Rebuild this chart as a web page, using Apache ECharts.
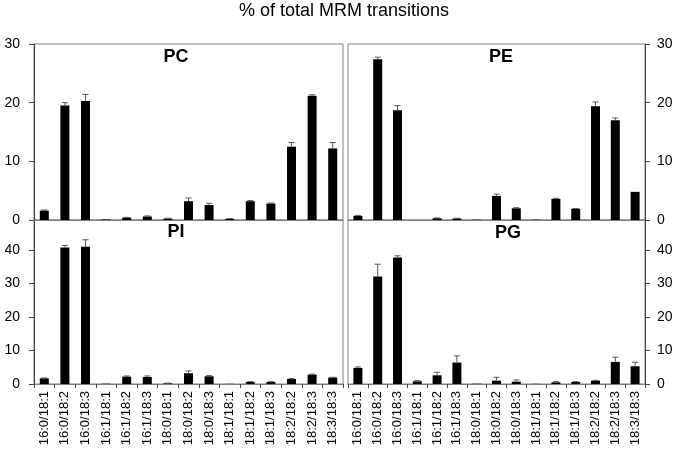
<!DOCTYPE html>
<html lang="en">
<head>
    <meta charset="UTF-8">
    <title>% of total MRM transitions</title>
    <script src="https://cdn.jsdelivr.net/npm/echarts@6/dist/echarts.min.js"></script>
    <style>
        body { margin: 0; background: #fff; }
        #chart { width: 678px; height: 451px; }
    </style>
</head>
<body>
    <div id="chart"></div>
    <script>
        // fatty acyl pairs on the x axis
        const categories = ['16:0/18:1', '16:0/18:2', '16:0/18:3', '16:1/18:1', '16:1/18:2', '16:1/18:3',
            '18:0/18:1', '18:0/18:2', '18:0/18:3', '18:1/18:1', '18:1/18:2', '18:1/18:3',
            '18:2/18:2', '18:2/18:3', '18:3/18:3'];

        const pcVals = [1.6, 19.5, 20.3, 0.1, 0.4, 0.6, 0.25, 3.2, 2.55, 0.2, 3.2, 2.8, 12.5, 21.2, 12.2];
        const pcErr  = [0.1, 0.5, 1.1, 0, 0.05, 0.1, 0.05, 0.55, 0.3, 0.05, 0.1, 0.1, 0.7, 0.15, 1.0];

        const peVals = [0.7, 27.4, 18.7, 0, 0.3, 0.25, 0.05, 4.1, 2.0, 0.05, 3.6, 1.9, 19.4, 17.0, 4.8];
        const peErr  = [0.05, 0.35, 0.8, 0, 0.05, 0.05, 0, 0.3, 0.1, 0, 0.1, 0.05, 0.7, 0.4, 0];

        const piVals = [1.7, 40.8, 41.0, 0.1, 2.2, 2.1, 0.2, 3.2, 2.3, 0.05, 0.6, 0.6, 1.5, 2.8, 1.9];
        const piErr  = [0.1, 0.6, 2.1, 0, 0.2, 0.3, 0.05, 0.7, 0.2, 0, 0.1, 0.1, 0.1, 0.15, 0.1];

        const pgVals = [4.8, 32.1, 37.8, 0.8, 2.6, 6.4, 0.1, 1.0, 0.7, 0.05, 0.5, 0.6, 1.0, 6.6, 5.3];
        const pgErr  = [0.3, 3.7, 0.5, 0.2, 0.9, 2.0, 0, 1.0, 0.5, 0, 0.2, 0.1, 0.1, 1.4, 1.2];

        const panelNames = ['PC', 'PE', 'PI', 'PG'];

        const chart = echarts.init(document.getElementById('chart'));
        const font = 'Liberation Sans, Arial, sans-serif';

        const grids = [
            { left: 34, top: 44, width: 309, height: 176 },
            { left: 348, top: 44, width: 297, height: 176 },
            { left: 34, top: 220, width: 309, height: 164 },
            { left: 348, top: 220, width: 297, height: 164 }
        ].map(g => Object.assign(g, { show: true, borderColor: '#7f7f7f', borderWidth: 1 }));

        const xAxes = grids.map((g, i) => ({
            type: 'category',
            gridIndex: i,
            data: categories,
            axisLine: { lineStyle: { color: '#7f7f7f' } },
            axisTick: { show: i >= 2, length: 4, lineStyle: { color: '#404040' } },
            axisLabel: {
                show: i >= 2,
                rotate: 90,
                interval: 0,
                margin: 7,
                fontFamily: font,
                fontSize: 13,
                color: '#000'
            }
        }));

        const yAxes = grids.map((g, i) => ({
            type: 'value',
            gridIndex: i,
            position: i % 2 === 0 ? 'left' : 'right',
            min: 0,
            max: i < 2 ? 30 : 49,
            interval: 10,
            splitLine: { show: false },
            axisLine: { show: true, lineStyle: { color: '#404040' } },
            axisTick: { show: true, length: 5, lineStyle: { color: '#404040' } },
            axisLabel: {
                margin: i % 2 === 0 ? 14 : 12,
                fontFamily: font,
                fontSize: 14,
                color: '#000',
                formatter: v => (v % 10 === 0 ? String(v) : '')
            }
        }));

        const panels = [[pcVals, pcErr], [peVals, peErr], [piVals, piErr], [pgVals, pgErr]];

        const series = [];
        panels.forEach(([vals, errs], i) => {
            series.push({
                type: 'bar',
                xAxisIndex: i,
                yAxisIndex: i,
                data: vals,
                barWidth: 9,
                itemStyle: { color: '#000' },
                silent: true
            });
            // upper error whiskers
            series.push({
                type: 'custom',
                xAxisIndex: i,
                yAxisIndex: i,
                z: 3,
                silent: true,
                data: vals.map((v, k) => [k, v, errs[k]]),
                renderItem: (params, api) => {
                    const e = api.value(2);
                    if (!e) return;
                    const v = api.value(1);
                    const base = api.coord([api.value(0), v]);
                    const top = api.coord([api.value(0), v + e]);
                    const style = { stroke: '#555', lineWidth: 1 };
                    return {
                        type: 'group',
                        children: [
                            { type: 'line', shape: { x1: base[0], y1: base[1], x2: top[0], y2: top[1] }, style },
                            { type: 'line', shape: { x1: top[0] - 3, y1: top[1], x2: top[0] + 3, y2: top[1] }, style }
                        ]
                    };
                }
            });
        });

        // panel labels
        const labelPos = [[176, 57], [501, 57], [176, 232], [508, 233]];
        const graphic = panelNames.map((name, i) => ({
            type: 'text',
            x: labelPos[i][0],
            y: labelPos[i][1],
            style: {
                text: name,
                fontFamily: font,
                fontWeight: 'bold',
                fontSize: 18,
                fill: '#000',
                align: 'center',
                verticalAlign: 'middle'
            }
        }));
        graphic.push({
            type: 'text',
            x: 344,
            y: 11,
            style: {
                text: '% of total MRM transitions',
                fontFamily: font,
                fontSize: 18,
                fill: '#000',
                align: 'center',
                verticalAlign: 'middle'
            }
        });

        chart.setOption({
            animation: false,
            grid: grids,
            xAxis: xAxes,
            yAxis: yAxes,
            series: series,
            graphic: graphic
        });
    </script>
</body>
</html>
